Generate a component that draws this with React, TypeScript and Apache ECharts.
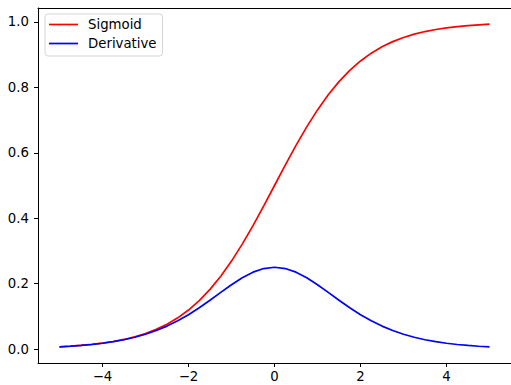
import React, { useEffect, useRef } from "react";
import * as echarts from "echarts";

const xValues = [
  -5, -4.75, -4.5, -4.25, -4, -3.75, -3.5, -3.25, -3, -2.75, -2.5, -2.25, -2, -1.75, -1.5, -1.25, -1, -0.75, -0.5, -0.25,
  0, 0.25, 0.5, 0.75, 1, 1.25, 1.5, 1.75, 2, 2.25, 2.5, 2.75, 3, 3.25, 3.5, 3.75, 4, 4.25, 4.5, 4.75, 5,
];

const sigmoidValues = [
  0.0067, 0.0086, 0.011, 0.014, 0.018, 0.023, 0.0293, 0.0373, 0.0474, 0.0601, 0.0759, 0.0954, 0.1192, 0.148, 0.1824,
  0.2227, 0.2689, 0.3208, 0.3775, 0.4378, 0.5, 0.5622, 0.6225, 0.6792, 0.7311, 0.7773, 0.8176, 0.852, 0.8808, 0.9046,
  0.9241, 0.9399, 0.9526, 0.9627, 0.9707, 0.977, 0.982, 0.986, 0.989, 0.9914, 0.9933,
];

const derivativeValues = [
  0.0066, 0.0085, 0.0109, 0.0138, 0.0177, 0.0225, 0.0285, 0.0359, 0.0452, 0.0565, 0.0701, 0.0863, 0.105, 0.1261, 0.1491,
  0.1731, 0.1966, 0.2179, 0.235, 0.2461, 0.25, 0.2461, 0.235, 0.2179, 0.1966, 0.1731, 0.1491, 0.1261, 0.105, 0.0863,
  0.0701, 0.0565, 0.0452, 0.0359, 0.0285, 0.0225, 0.0177, 0.0138, 0.0109, 0.0085, 0.0066,
];

const xTicks = [-4, -2, 0, 2, 4];
const yTicks = [0, 0.2, 0.4, 0.6, 0.8, 1.0];
const seriesNames = ["Sigmoid", "Derivative"];

const FONT = "DejaVu Sans";
const FS = 13.3;

export default function App() {
  const ref = useRef<HTMLDivElement>(null);
  useEffect(() => {
    if (!ref.current) return;
    const chart = echarts.init(ref.current, null, { renderer: "svg" });
    const axisLine = { show: true, onZero: false, lineStyle: { color: "#000", width: 1 } };
    chart.setOption({
      animation: false,
      backgroundColor: "#fff",
      textStyle: { fontFamily: FONT },
      grid: { left: 38, top: 8, width: 477, height: 355, containLabel: false },
      legend: {
        orient: "vertical",
        left: 45,
        top: 14,
        data: seriesNames,
        icon: "rect",
        itemWidth: 29,
        itemHeight: 1.7,
        itemGap: 6,
        padding: [4, 6, 6, 4],
        borderColor: "#d5d5d5",
        borderWidth: 1,
        borderRadius: 3,
        backgroundColor: "rgba(255,255,255,0.8)",
        textStyle: { fontFamily: FONT, fontSize: FS, color: "#000", padding: [0, 0, 0, 5] },
      },
      xAxis: [
        {
          type: "value",
          min: -5.5,
          max: 5.5,
          axisLine,
          splitLine: { show: false },
          axisTick: { show: true, length: 4, customValues: xTicks, lineStyle: { color: "#000", width: 1 } },
          axisLabel: {
            customValues: xTicks,
            margin: 7,
            fontFamily: FONT,
            fontSize: FS,
            color: "#000",
            formatter: (v: number) => String(v).replace("-", "\u2212"),
          },
        },
        {
          type: "value",
          position: "top",
          min: -5.5,
          max: 5.5,
          axisLine,
          splitLine: { show: false },
          axisTick: { show: false },
          axisLabel: { show: false },
        },
      ],
      yAxis: [
        {
          type: "value",
          min: -0.0427,
          max: 1.0427,
          axisLine,
          splitLine: { show: false },
          axisTick: { show: true, length: 4, customValues: yTicks, lineStyle: { color: "#000", width: 1 } },
          axisLabel: {
            customValues: yTicks,
            margin: 9,
            fontFamily: FONT,
            fontSize: FS,
            color: "#000",
            formatter: (v: number) => v.toFixed(1),
          },
        },
      ],
      series: [
        {
          name: seriesNames[0],
          type: "line",
          data: xValues.map((x, i) => [x, sigmoidValues[i]]),
          showSymbol: false,
          symbol: "none",
          lineStyle: { color: "#ff0000", width: 1.7 },
          itemStyle: { color: "#ff0000" },
        },
        {
          name: seriesNames[1],
          type: "line",
          data: xValues.map((x, i) => [x, derivativeValues[i]]),
          showSymbol: false,
          symbol: "none",
          lineStyle: { color: "#0000ff", width: 1.7 },
          itemStyle: { color: "#0000ff" },
        },
      ],
    });
    return () => chart.dispose();
  }, []);
  return (
    <div style={{ position: "fixed", left: 0, top: 0, width: 511, height: 385, overflow: "hidden", background: "#fff" }}>
      <div ref={ref} style={{ width: 511, height: 385 }} />
    </div>
  );
}
